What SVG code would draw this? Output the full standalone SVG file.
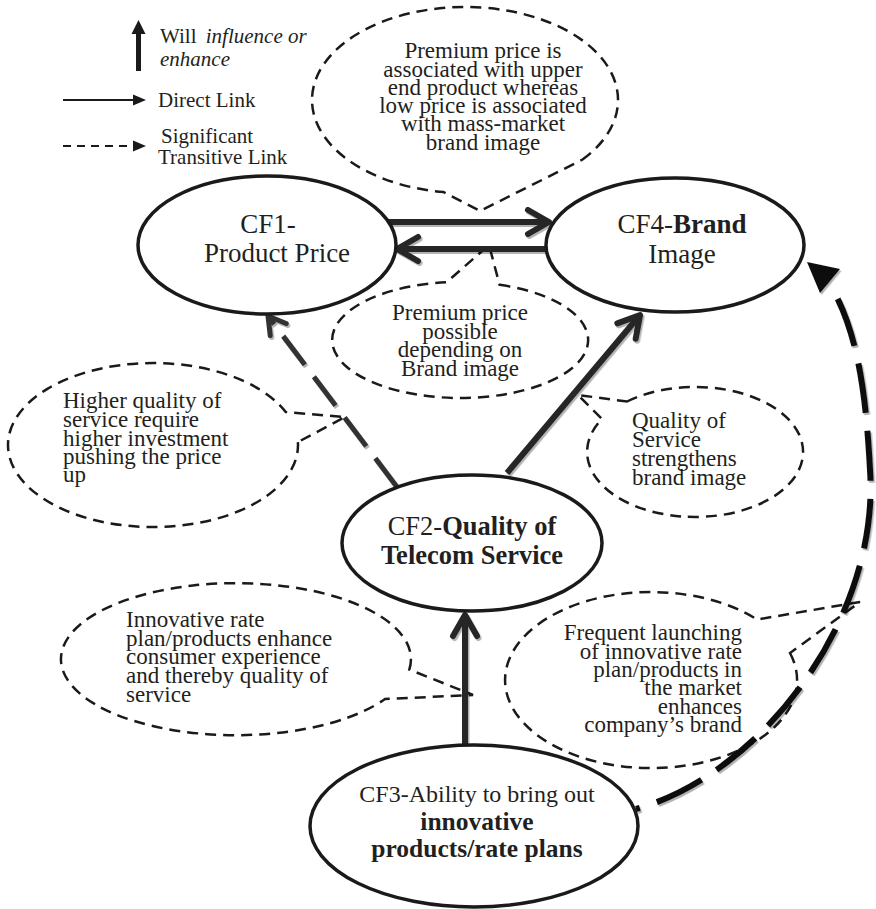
<svg xmlns="http://www.w3.org/2000/svg" width="876" height="909" viewBox="0 0 876 909">
<style>
text{font-family:"Liberation Serif","Times New Roman",serif;fill:#231f20}
.leg{font-size:21px}
.co{font-size:23px}
.mid{text-anchor:middle}
.end{text-anchor:end}
.nd{fill:#fff;stroke:#1a1a1a;stroke-width:3.5}
.cl{fill:none;stroke:#1a1a1a;stroke-width:2.5;stroke-dasharray:11 7}
.b{font-weight:bold}
.it{font-style:italic}
.sol{fill:none;stroke:#262626;stroke-width:6}
</style>
<defs>
<filter id="sh" filterUnits="userSpaceOnUse" x="0" y="0" width="876" height="909">
<feDropShadow dx="1.5" dy="2" stdDeviation="0.6" flood-color="#000" flood-opacity="0.3"/>
</filter>
<marker id="chev" markerUnits="userSpaceOnUse" viewBox="-30 -20 36 40" markerWidth="36" markerHeight="40" refX="-3" refY="0" orient="auto">
<path d="M-21,-12 L0,0 L-21,12" fill="none" stroke="#262626" stroke-width="6" stroke-linecap="round" stroke-linejoin="round"/>
</marker>
<marker id="chev2" markerUnits="userSpaceOnUse" viewBox="-30 -20 36 40" markerWidth="36" markerHeight="40" refX="-3" refY="0" orient="auto">
<path d="M-17,-10 L0,0 L-17,10" fill="none" stroke="#333" stroke-width="5" stroke-linecap="round" stroke-linejoin="round"/>
</marker>
</defs>
<rect width="876" height="909" fill="#fff"/>

<g id="legend">
<rect x="136" y="32" width="5" height="39" fill="#1a1a1a"/>
<polygon points="138.5,20 131.5,34 145.5,34" fill="#1a1a1a"/>
<line x1="63" y1="100" x2="135" y2="100" stroke="#1a1a1a" stroke-width="2"/>
<polygon points="146,100 133,94.5 133,105.5" fill="#1a1a1a"/>
<line x1="63" y1="146" x2="133" y2="146" stroke="#1a1a1a" stroke-width="2" stroke-dasharray="8 6"/>
<polygon points="146,146 133,140.5 133,151.5" fill="#1a1a1a"/>
<text class="leg" x="160" y="43">Will <tspan class="it" dx="4">influence or</tspan></text>
<text class="leg it" x="160" y="66">enhance</text>
<text class="leg" x="158" y="107">Direct Link</text>
<text class="leg" x="161" y="143">Significant</text>
<text class="leg" x="158" y="164">Transitive Link</text>
</g>

<g id="callout-top">
<path class="cl" d="M582.2,159.8 A153 93 0 1 0 443.7,192.1 L480,211 Z"/>
<text class="co mid"><tspan x="483" y="58">Premium price is</tspan><tspan x="483" y="76.5">associated with upper</tspan><tspan x="483" y="95">end product whereas</tspan><tspan x="483" y="113">low price is associated</tspan><tspan x="483" y="131">with mass-market</tspan><tspan x="483" y="149.5">brand image</tspan></text>
</g>

<g id="callout-mid">
<path class="cl" d="M499.6,284.8 A128 58 0 1 1 446.6,282.3 L489,245 Z"/>
<text class="co mid"><tspan x="460" y="320">Premium price</tspan><tspan x="460" y="338.5">possible</tspan><tspan x="460" y="357">depending on</tspan><tspan x="460" y="375.5">Brand image</tspan></text>
</g>

<g id="callout-left">
<path class="cl" d="M297.9,442.1 A145 82 0 1 1 285.7,412 L345,417 Z"/>
<text class="co"><tspan x="63" y="408">Higher quality of</tspan><tspan x="63" y="427">service require</tspan><tspan x="63" y="446">higher investment</tspan><tspan x="63" y="464">pushing the price</tspan><tspan x="63" y="482">up</tspan></text>
</g>

<g id="callout-right">
<path class="cl" d="M627,401.5 A108 65 0 1 1 602,419 L578,395 Z"/>
<text class="co"><tspan x="632" y="428">Quality of</tspan><tspan x="632" y="447">Service</tspan><tspan x="632" y="466">strengthens</tspan><tspan x="632" y="485">brand image</tspan></text>
</g>

<g id="callout-lowleft">
<path class="cl" d="M409.3,669.6 A175 76 0 1 0 385,699 L473,695 Z"/>
<text class="co"><tspan x="126" y="627">Innovative rate</tspan><tspan x="126" y="645.5">plan/products enhance</tspan><tspan x="126" y="664">consumer experience</tspan><tspan x="126" y="683">and thereby quality of</tspan><tspan x="126" y="702">service</tspan></text>
</g>

<g id="callout-lowright">
<path class="cl" d="M790,653 A146 88 0 1 1 757,619.5 L860,602 Z"/>
<text class="co end"><tspan x="742" y="640">Frequent launching</tspan><tspan x="742" y="658.5">of innovative rate</tspan><tspan x="742" y="677">plan/products in</tspan><tspan x="742" y="695">the market</tspan><tspan x="742" y="713.5">enhances</tspan><tspan x="742" y="732">company’s brand</tspan></text>
</g>

<g id="connectors" filter="url(#sh)">
<line class="sol" x1="386" y1="222" x2="546" y2="222" stroke-width="7" marker-end="url(#chev)"/>
<line class="sol" x1="547" y1="249" x2="400" y2="249" stroke-width="7" marker-end="url(#chev)"/>
<line class="sol" x1="507" y1="473" x2="638.1" y2="317.3" marker-end="url(#chev)"/>
<line class="sol" x1="465" y1="745" x2="465" y2="618" marker-end="url(#chev)"/>
<line x1="397" y1="487" x2="269.8" y2="318.4" stroke="#333" stroke-width="5" stroke-dasharray="36 15" marker-end="url(#chev2)"/>
<path d="M636,809 C760,775 880,620 870,470 C866,395 858,330 829,283" fill="none" stroke="#111" stroke-width="6" stroke-dasharray="50 18" stroke-dashoffset="46"/>
<polygon points="807,262 840,269 820,293" fill="#111"/>
</g>

<g id="cf1">
<ellipse class="nd" cx="267" cy="245" rx="129" ry="69"/>
<text class="mid" font-size="27" x="268" y="233">CF1-</text>
<text class="mid" font-size="27" x="277" y="262">Product Price</text>
</g>
<g id="cf4">
<ellipse class="nd" cx="675" cy="245" rx="129" ry="67"/>
<text class="mid" font-size="27" x="682" y="233">CF4-<tspan class="b">Brand</tspan></text>
<text class="mid" font-size="27" x="682" y="263">Image</text>
</g>
<g id="cf2">
<ellipse class="nd" cx="472" cy="543" rx="130" ry="68"/>
<text class="mid" font-size="26.5" x="472" y="535">CF2-<tspan class="b">Quality of</tspan></text>
<text class="mid b" font-size="26.5" x="472" y="564">Telecom Service</text>
</g>
<g id="cf3">
<ellipse class="nd" cx="474" cy="826" rx="164" ry="81"/>
<text class="mid" font-size="24" x="477" y="802">CF3-Ability to bring out</text>
<text class="mid b" font-size="25.5" x="477" y="830">innovative</text>
<text class="mid b" font-size="25.5" x="477" y="857">products/rate plans</text>
</g>
</svg>
